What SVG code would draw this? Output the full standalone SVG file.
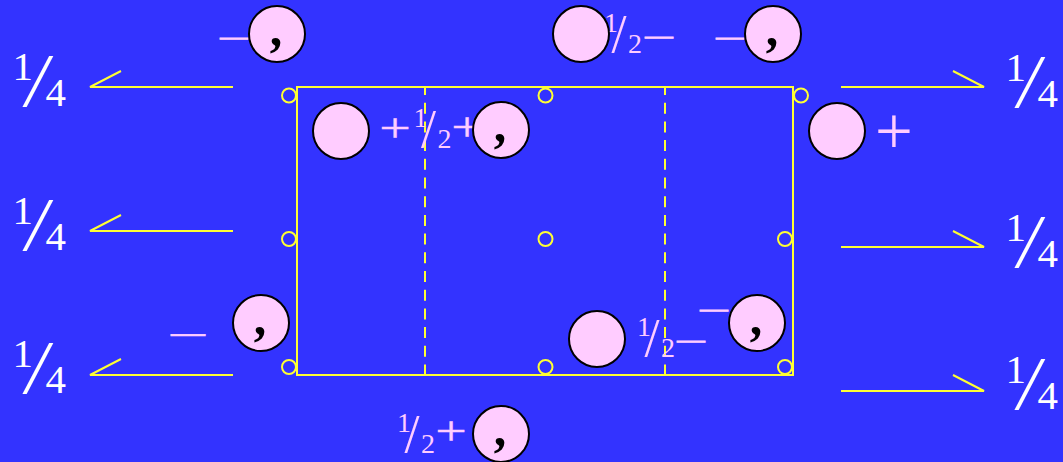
<svg xmlns="http://www.w3.org/2000/svg" width="1063" height="462" viewBox="0 0 1063 462">
<style>
.y{stroke:#FFFF33;stroke-width:2;fill:none}
.dash{stroke:#FFFF33;stroke-width:2;stroke-dasharray:11 7.7;stroke-dashoffset:3}
.atom{fill:#FFCCFF;stroke:#000;stroke-width:2}
.t{font-family:"Liberation Serif","Times New Roman",serif}
.pk{fill:#FFCCFF}
.sym{fill:#FFCCFF;stroke:#FFCCFF;stroke-width:0.7}
.pl{fill:#FFCCFF;stroke:#FFCCFF;stroke-width:0.3}
.wh{fill:#FFFFFF}
.cm{font-family:"Liberation Serif",serif;font-weight:bold;font-size:50px;fill:#000;text-anchor:middle}
.d28{font-size:28px}
.s54{font-size:54px}
.q41{font-size:41px}
.q77{font-size:77px;font-style:italic}
</style>
<rect width="1063" height="462" fill="#3333FF"/>
<g id="cell">
<rect class="y" x="297" y="87" width="496" height="288"/>
<line class="dash" x1="425" y1="87" x2="425" y2="375"/>
<line class="dash" x1="665" y1="87" x2="665" y2="375"/>
</g>
<g id="sites" class="y">
<circle cx="289" cy="95.5" r="7"/>
<circle cx="545.5" cy="95.5" r="7"/>
<circle cx="801" cy="95.5" r="7"/>
<circle cx="289" cy="239" r="7"/>
<circle cx="545.5" cy="239" r="7"/>
<circle cx="785" cy="239" r="7"/>
<circle cx="289" cy="367" r="7"/>
<circle cx="545.5" cy="367" r="7"/>
<circle cx="785" cy="367" r="7"/>
</g>
<g id="connectors" class="y">
<path d="M233 87H90L121 71"/>
<path d="M233 231H90L121 215"/>
<path d="M233 375H90L121 359"/>
<path d="M841 87H984L953 71"/>
<path d="M841 247H984L953 231"/>
<path d="M841 391H984L953 375"/>
</g>
<g id="quarters" class="t wh">
<text><tspan class="q41" x="12.5" y="80">1</tspan><tspan class="q77" x="26" y="106">/</tspan><tspan class="q41" x="45.5" y="106">4</tspan></text>
<text><tspan class="q41" x="12.5" y="224">1</tspan><tspan class="q77" x="26" y="250">/</tspan><tspan class="q41" x="45.5" y="250">4</tspan></text>
<text><tspan class="q41" x="12.5" y="367">1</tspan><tspan class="q77" x="26" y="393">/</tspan><tspan class="q41" x="45.5" y="393">4</tspan></text>
<text><tspan class="q41" x="1005.5" y="81">1</tspan><tspan class="q77" x="1018" y="107">/</tspan><tspan class="q41" x="1037.5" y="107">4</tspan></text>
<text><tspan class="q41" x="1005.5" y="241">1</tspan><tspan class="q77" x="1018" y="267">/</tspan><tspan class="q41" x="1037.5" y="267">4</tspan></text>
<text><tspan class="q41" x="1005.5" y="383">1</tspan><tspan class="q77" x="1018" y="409">/</tspan><tspan class="q41" x="1037.5" y="409">4</tspan></text>
</g>
<g id="labels" class="t">
<text class="sym" x="220" y="45.3" font-size="28">—</text>
<text class="sym" x="716" y="45.3" font-size="28">—</text>
<text class="sym" x="645" y="44.3" font-size="28">—</text>
<text class="sym" x="171" y="342.7" font-size="34">—</text>
<text class="sym" x="700" y="317.3" font-size="28">—</text>
<text class="sym" x="677" y="348.3" font-size="28">—</text>
<text class="pk" x="875" y="154" font-size="67">+</text>
<text class="pl" transform="translate(381 141) scale(1.4 1)" x="-1.2" y="0" font-size="40">+</text>
<text class="pl" transform="translate(453 140) scale(1.4 1)" x="-1.2" y="0" font-size="40">+</text>
<text class="pl" transform="translate(437 444) scale(1.4 1)" x="-1.2" y="0" font-size="40">+</text>
<text class="pk"><tspan class="d28" x="604" y="32">1</tspan><tspan class="s54" x="611.5" y="52">/</tspan><tspan class="d28" x="628" y="53">2</tspan></text>
<text class="pk"><tspan class="d28" x="413.5" y="127">1</tspan><tspan class="s54" x="421" y="147">/</tspan><tspan class="d28" x="437.5" y="148">2</tspan></text>
<text class="pk"><tspan class="d28" x="637" y="336">1</tspan><tspan class="s54" x="644.5" y="356">/</tspan><tspan class="d28" x="661" y="357">2</tspan></text>
<text class="pk"><tspan class="d28" x="397" y="432">1</tspan><tspan class="s54" x="404.5" y="452">/</tspan><tspan class="d28" x="421" y="453">2</tspan></text>
</g>
<g id="atom-a"><circle class="atom" cx="277" cy="34" r="28"/><text class="cm" x="276" y="45">,</text></g>
<g id="atom-b"><circle class="atom" cx="581" cy="34" r="28"/></g>
<g id="atom-c"><circle class="atom" cx="773" cy="34" r="28"/><text class="cm" x="772" y="45">,</text></g>
<g id="atom-d"><circle class="atom" cx="341" cy="131" r="28"/></g>
<g id="atom-e"><circle class="atom" cx="501" cy="130" r="28"/><text class="cm" x="500" y="141">,</text></g>
<g id="atom-f"><circle class="atom" cx="837" cy="131" r="28"/></g>
<g id="atom-g"><circle class="atom" cx="261" cy="323" r="28"/><text class="cm" x="260" y="334">,</text></g>
<g id="atom-h"><circle class="atom" cx="597" cy="339" r="28"/></g>
<g id="atom-i"><circle class="atom" cx="757" cy="323" r="28"/><text class="cm" x="756" y="334">,</text></g>
<g id="atom-j"><circle class="atom" cx="501" cy="434" r="28"/><text class="cm" x="500" y="445">,</text></g>
</svg>
